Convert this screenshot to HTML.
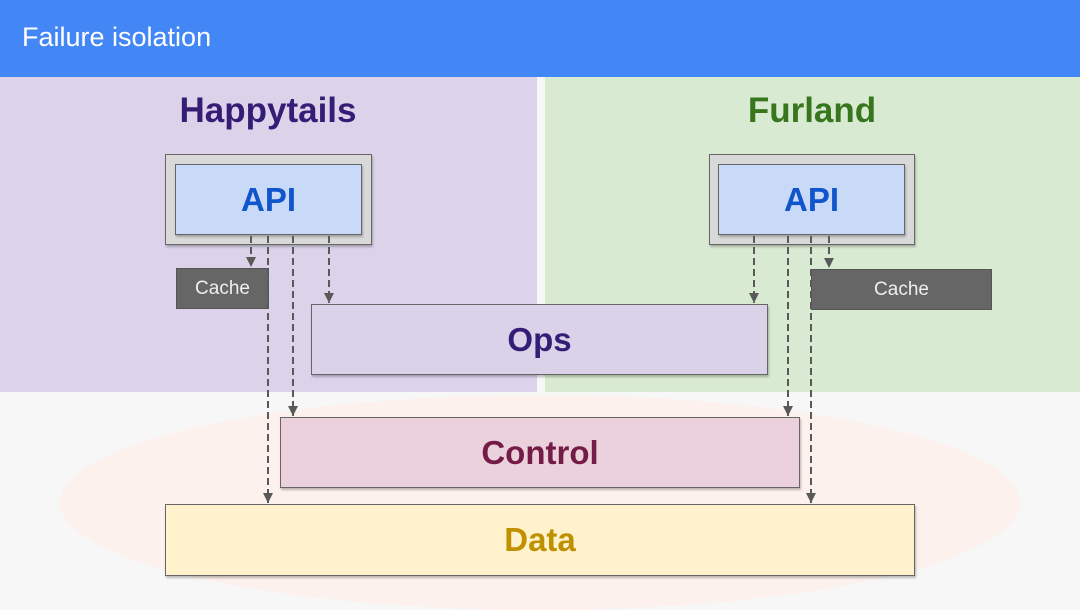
<!DOCTYPE html>
<html><head><meta charset="utf-8"><style>
body{margin:0;width:1080px;height:608px;overflow:hidden;background:#f7f7f7;font-family:"Liberation Sans",sans-serif;position:relative}
div{position:absolute;box-sizing:border-box}
.c{display:flex;align-items:center;justify-content:center;font-weight:bold}
.box{border:1.5px solid #666;box-shadow:1px 2px 2px rgba(0,0,0,.25)}
</style></head><body>
<div style="left:60px;top:395px;width:960px;height:215px;border-radius:50%;background:#fcefe8;opacity:.8"></div>
<div style="left:0;top:0;width:1080px;height:77px;background:#4386f5;color:#fff;font-size:27px;padding:22px 0 0 22px">Failure isolation</div>
<div style="left:0;top:77px;width:537px;height:315px;background:#dcd3ea"></div>
<div style="left:545px;top:77px;width:535px;height:315px;background:#d9ead3"></div>
<div class="c" style="left:120px;top:88px;width:296px;height:45px;font-size:35px;color:#351c75">Happytails</div>
<div class="c" style="left:664px;top:88px;width:296px;height:45px;font-size:35px;color:#38761d">Furland</div>
<div class="box" style="left:165px;top:154px;width:207px;height:91px;background:#d9d9d9"></div>
<div class="box c" style="left:175px;top:164px;width:187px;height:71px;background:#c9daf8;color:#1155cc;font-size:33px">API</div>
<div class="box" style="left:709px;top:154px;width:206px;height:91px;background:#d9d9d9"></div>
<div class="box c" style="left:718px;top:164px;width:187px;height:71px;background:#c9daf8;color:#1155cc;font-size:33px">API</div>
<div class="c" style="left:176px;top:268px;width:93px;height:41px;background:#666;color:#eee;font-size:19px;font-weight:normal;border:1px solid #555">Cache</div>
<div class="c" style="left:811px;top:269px;width:181px;height:41px;background:#666;color:#eee;font-size:19px;font-weight:normal;border:1px solid #555">Cache</div>
<div class="box c" style="left:311px;top:304px;width:457px;height:71px;background:#d9d2e9;color:#351c75;font-size:33px">Ops</div>
<div class="box c" style="left:280px;top:417px;width:520px;height:71px;background:#ead1dc;color:#741b47;font-size:33px">Control</div>
<div class="box c" style="left:165px;top:504px;width:750px;height:72px;background:#fff2cc;color:#bf9000;font-size:33px">Data</div>
<svg width="1080" height="608" style="position:absolute;left:0;top:0">
<defs><marker id="a" markerWidth="12" markerHeight="12" refX="10" refY="5" orient="auto" markerUnits="userSpaceOnUse"><path d="M0,0 L10,5 L0,10z" fill="#595959"/></marker></defs>
<g stroke="#595959" stroke-width="2" stroke-dasharray="7,4" fill="none" marker-end="url(#a)">
<line x1="251" y1="236" x2="251" y2="267"/>
<line x1="268" y1="236" x2="268" y2="503"/>
<line x1="293" y1="236" x2="293" y2="416"/>
<line x1="329" y1="236" x2="329" y2="303"/>
<line x1="754" y1="236" x2="754" y2="303"/>
<line x1="788" y1="236" x2="788" y2="416"/>
<line x1="829" y1="236" x2="829" y2="268"/>
<line x1="811" y1="236" x2="811" y2="503"/>
</g></svg>
</body></html>
